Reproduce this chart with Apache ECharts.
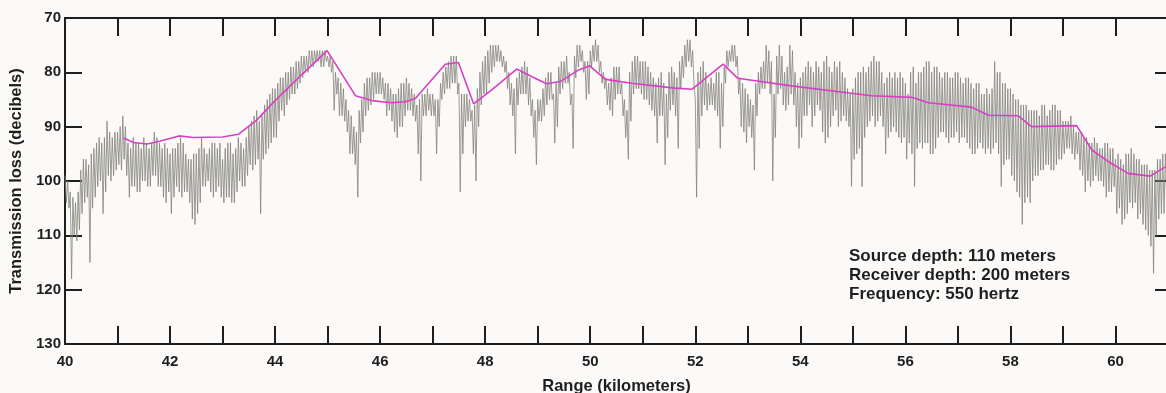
<!DOCTYPE html>
<html>
<head>
<meta charset="utf-8">
<script src="https://cdn.jsdelivr.net/npm/echarts@6/dist/echarts.min.js"></script>
<style>
  html, body { margin: 0; padding: 0; background: #fcfaf8; }
  #chart { width: 1166px; height: 393px; }
</style>
</head>
<body>
<div id="chart"></div>
<script>
// gray trace: upper and lower swing per 0.05 km step, starting at 40 km (one row per km)
const kmStart = 40;
const kmStep = 0.05;
const lossHigh = [
  99, 100, 102, 103, 104, 102, 98, 96, 96, 97,   95, 94, 93, 92, 93, 92, 89, 91, 92, 91,
  91, 90, 88, 90, 93, 94, 92, 93, 93, 94,        92, 93, 94, 93, 91, 92, 93, 94, 93, 94,
  95, 94, 94, 93, 92, 93, 95, 96, 96, 95,        95, 94, 92, 94, 95, 94, 93, 93, 94, 93,
  96, 94, 93, 93, 95, 94, 92, 93, 94, 92,        90, 89, 88, 87, 89, 88, 86, 85, 84, 83,
  83, 82, 81, 81, 80, 80, 79, 79, 78, 78,        77, 77, 77, 76, 76, 76, 76, 76, 76, 76,
  77, 77, 78, 80, 81, 82, 83, 85, 87, 88,        90, 91, 87, 85, 82, 81, 81, 80, 80, 80,
  80, 81, 82, 82, 83, 84, 84, 83, 82, 82,        81, 82, 83, 84, 86, 85, 84, 84, 83, 84,
  84, 85, 85, 82, 80, 79, 78, 77, 77, 77,        82, 84, 84, 84, 85, 87, 86, 83, 80, 78,
  77, 76, 75, 75, 75, 75, 76, 77, 78, 80,        82, 83, 81, 80, 79, 78, 79, 81, 85, 87,
  85, 85, 83, 81, 80, 80, 84, 82, 79, 78,        78, 77, 80, 84, 77, 75, 75, 76, 78, 78,
  76, 75, 74, 75, 78, 80, 81, 82, 81, 79,        79, 79, 82, 85, 87, 80, 78, 77, 77, 78,
  78, 78, 79, 80, 81, 82, 81, 80, 82, 84,        80, 79, 80, 81, 78, 77, 75, 74, 74, 76,
  85, 80, 79, 78, 80, 82, 81, 82, 80, 80,        82, 79, 76, 76, 75, 75, 77, 81, 82, 83,
  84, 85, 86, 82, 80, 79, 78, 75, 76, 78,        84, 77, 75, 77, 80, 79, 75, 76, 80, 82,
  81, 80, 79, 78, 79, 80, 78, 79, 80, 78,        77, 79, 80, 78, 79, 78, 80, 81, 83, 84,
  83, 81, 80, 80, 79, 80, 79, 78, 77, 78,        78, 80, 82, 81, 80, 81, 80, 81, 80, 81,
  82, 84, 80, 79, 82, 80, 80, 79, 78, 78,        80, 79, 79, 80, 81, 80, 80, 81, 81, 80,
  80, 81, 82, 81, 81, 82, 83, 82, 82, 84,        84, 83, 84, 83, 78, 80, 80, 82, 82, 83,
  83, 84, 85, 85, 86, 86, 86, 87, 87, 87,        87, 88, 86, 86, 88, 87, 86, 86, 87, 87,
  89, 89, 89, 88, 90, 91, 91, 91, 92, 92,        93, 93, 92, 93, 94, 94, 93, 93, 94, 94,
  96, 95, 96, 97, 95, 95, 94, 95, 96, 96,        97, 97, 97, 98, 98, 98, 96, 96, 95, 95,
  94
];
const lossLow = [
  104, 105, 118, 110, 111, 109, 106, 104, 103, 115,   105, 103, 101, 100, 106, 102, 99, 100, 99, 98,
  97, 98, 96, 99, 103, 101, 101, 102, 102, 100,       100, 101, 101, 99, 99, 101, 101, 103, 104, 102,
  106, 103, 101, 102, 103, 102, 102, 104, 107, 108,   106, 104, 101, 101, 100, 102, 103, 102, 101, 103,
  104, 103, 103, 104, 104, 102, 100, 101, 101, 99,    97, 98, 97, 96, 106, 96, 95, 94, 93, 92,
  92, 89, 87, 88, 86, 85, 84, 84, 83, 82,             81, 80, 80, 79, 79, 78, 78, 79, 79, 78,
  79, 80, 87, 84, 88, 88, 89, 91, 95, 95,             97, 103, 93, 91, 88, 87, 86, 85, 84, 84,
  84, 85, 88, 87, 89, 91, 92, 90, 90, 88,             87, 87, 88, 89, 95, 100, 88, 88, 87, 88,
  88, 95, 90, 85, 84, 83, 83, 82, 82, 84,             102, 95, 90, 89, 89, 95, 100, 90, 86, 84,
  84, 82, 80, 79, 78, 78, 79, 80, 83, 86,             88, 95, 86, 84, 84, 84, 86, 88, 92, 97,
  89, 89, 88, 86, 85, 85, 93, 90, 84, 83,             82, 82, 86, 94, 81, 79, 78, 80, 85, 84,
  79, 78, 78, 80, 82, 83, 86, 87, 88, 85,             84, 84, 88, 92, 96, 89, 84, 83, 83, 84,
  85, 85, 86, 87, 88, 93, 88, 88, 97, 92,             87, 86, 88, 94, 83, 81, 79, 78, 79, 82,
  103, 94, 88, 86, 87, 86, 86, 87, 88, 94,            90, 82, 79, 78, 78, 79, 84, 90, 91, 93,
  90, 92, 98, 88, 84, 83, 83, 82, 84, 100,            92, 84, 83, 86, 87, 86, 84, 86, 90, 94,
  92, 88, 88, 86, 90, 88, 86, 87, 91, 93,             92, 90, 88, 87, 90, 89, 88, 89, 90, 101,
  96, 95, 94, 101, 92, 90, 89, 88, 90, 89,            88, 90, 95, 92, 91, 90, 91, 92, 93, 92,
  96, 93, 95, 101, 94, 93, 94, 93, 93, 95,            95, 94, 92, 91, 91, 92, 93, 92, 92, 91,
  93, 92, 92, 93, 94, 95, 95, 94, 93, 94,             95, 94, 95, 94, 93, 95, 101, 97, 96, 96,
  99, 100, 102, 103, 108, 104, 103, 104, 100, 99,     99, 98, 98, 97, 97, 98, 98, 97, 96, 96,
  95, 94, 94, 95, 96, 95, 98, 99, 102, 100,           101, 100, 99, 100, 100, 101, 103, 102, 102, 101,
  106, 105, 108, 107, 106, 104, 105, 104, 107, 106,   108, 109, 110, 112, 117, 110, 107, 106, 106, 104,
  104
];

// magenta averaged curve
const avgKm = [41.12, 41.3, 41.56, 41.8, 42.17, 42.44, 43.0, 43.3, 43.65, 44.0, 44.5, 44.99,
  45.53, 45.84, 46.22, 46.48, 46.67, 47.24, 47.49, 47.78, 48.13, 48.6, 48.89, 49.17, 49.43,
  49.77, 49.99, 50.29, 50.79, 51.61, 51.94, 52.53, 52.81, 53.83, 54.85, 55.36, 56.12, 56.44,
  57.26, 57.58, 58.15, 58.4, 59.26, 59.55, 59.86, 60.24, 60.66, 60.95];
const avgLoss = [92.1, 92.9, 93.2, 92.7, 91.7, 92.0, 91.9, 91.4, 88.8, 85.2, 80.5, 76.0,
  84.3, 85.2, 85.6, 85.4, 84.8, 78.5, 78.2, 85.8, 83.2, 79.4, 80.8, 82.1, 81.7,
  79.6, 78.8, 81.3, 82.0, 82.9, 83.1, 78.5, 81.1, 82.5, 83.7, 84.3, 84.6, 85.6,
  86.4, 87.9, 88.0, 90.0, 89.8, 94.3, 96.4, 98.6, 99.1, 97.4];

const yTicks = [70, 80, 90, 100, 110, 120, 130];

const grayData = [];
lossHigh.forEach((h, i) => {
  const km = kmStart + i * kmStep;
  grayData.push([km, h]);
  if (i < lossHigh.length - 1) grayData.push([km + kmStep / 2, lossLow[i]]);
});
const avgData = avgKm.map((k, i) => [k, avgLoss[i]]);

const chart = echarts.init(document.getElementById('chart'));
const ink = '#1e1e1e';
const font = '"Liberation Sans", Arial, sans-serif';

chart.setOption({
  backgroundColor: '#fcfaf8',
  animation: false,
  grid: { left: 65, right: -2, top: 18, bottom: 49, outerBoundsMode: 'none', containLabel: false },
  xAxis: [
    {
      type: 'value', min: 40, max: 61, interval: 1, position: 'bottom',
      axisLine: { lineStyle: { color: ink, width: 2 } },
      axisTick: { inside: true, length: 18, lineStyle: { color: ink, width: 2 } },
      axisLabel: {
        margin: 10, color: ink, fontFamily: font, fontWeight: 'bold', fontSize: 15,
        formatter: v => (v % 2 === 0 ? String(v) : '')
      },
      splitLine: { show: false },
      name: 'Range (kilometers)', nameLocation: 'middle', nameGap: 34,
      nameTextStyle: { color: ink, fontFamily: font, fontWeight: 'bold', fontSize: 16.5 }
    },
    {
      type: 'value', min: 40, max: 61, interval: 1, position: 'top',
      axisLine: { lineStyle: { color: ink, width: 2 } },
      axisTick: { inside: true, length: 18, lineStyle: { color: ink, width: 2 } },
      axisLabel: { show: false },
      splitLine: { show: false }
    }
  ],
  yAxis: [
    {
      type: 'value', min: 70, max: 130, interval: 10, inverse: true, position: 'left',
      axisLine: { show: true, lineStyle: { color: ink, width: 2 } },
      axisTick: { show: true, inside: true, length: 17, lineStyle: { color: ink, width: 2 } },
      axisLabel: {
        margin: 4, color: ink, fontFamily: font, fontWeight: 'bold', fontSize: 15,
        formatter: v => (yTicks.includes(v) ? String(v) : '')
      },
      splitLine: { show: false },
      name: 'Transmission loss (decibels)', nameLocation: 'middle', nameGap: 39,
      nameTextStyle: { color: ink, fontFamily: font, fontWeight: 'bold', fontSize: 16.5 }
    },
    {
      type: 'value', min: 70, max: 130, interval: 10, inverse: true, position: 'right',
      axisLine: { show: true, lineStyle: { color: ink, width: 2 } },
      axisTick: { show: true, inside: true, length: 13, lineStyle: { color: ink, width: 2 } },
      axisLabel: { show: false },
      splitLine: { show: false }
    }
  ],
  series: [
    {
      type: 'line', data: grayData, showSymbol: false, symbol: 'none',
      lineStyle: { color: '#84847c', width: 0.8 }
    },
    {
      type: 'line', data: avgData, showSymbol: false, symbol: 'none',
      lineStyle: { color: '#d93fc4', width: 1.6 }
    }
  ],
  graphic: [
    {
      type: 'text', left: 849, top: 247,
      style: {
        text: 'Source depth: 110 meters\nReceiver depth: 200 meters\nFrequency: 550 hertz',
        font: 'bold 17px "Liberation Sans", Arial, sans-serif',
        lineHeight: 19, fill: ink
      }
    }
  ]
});
</script>
</body>
</html>
